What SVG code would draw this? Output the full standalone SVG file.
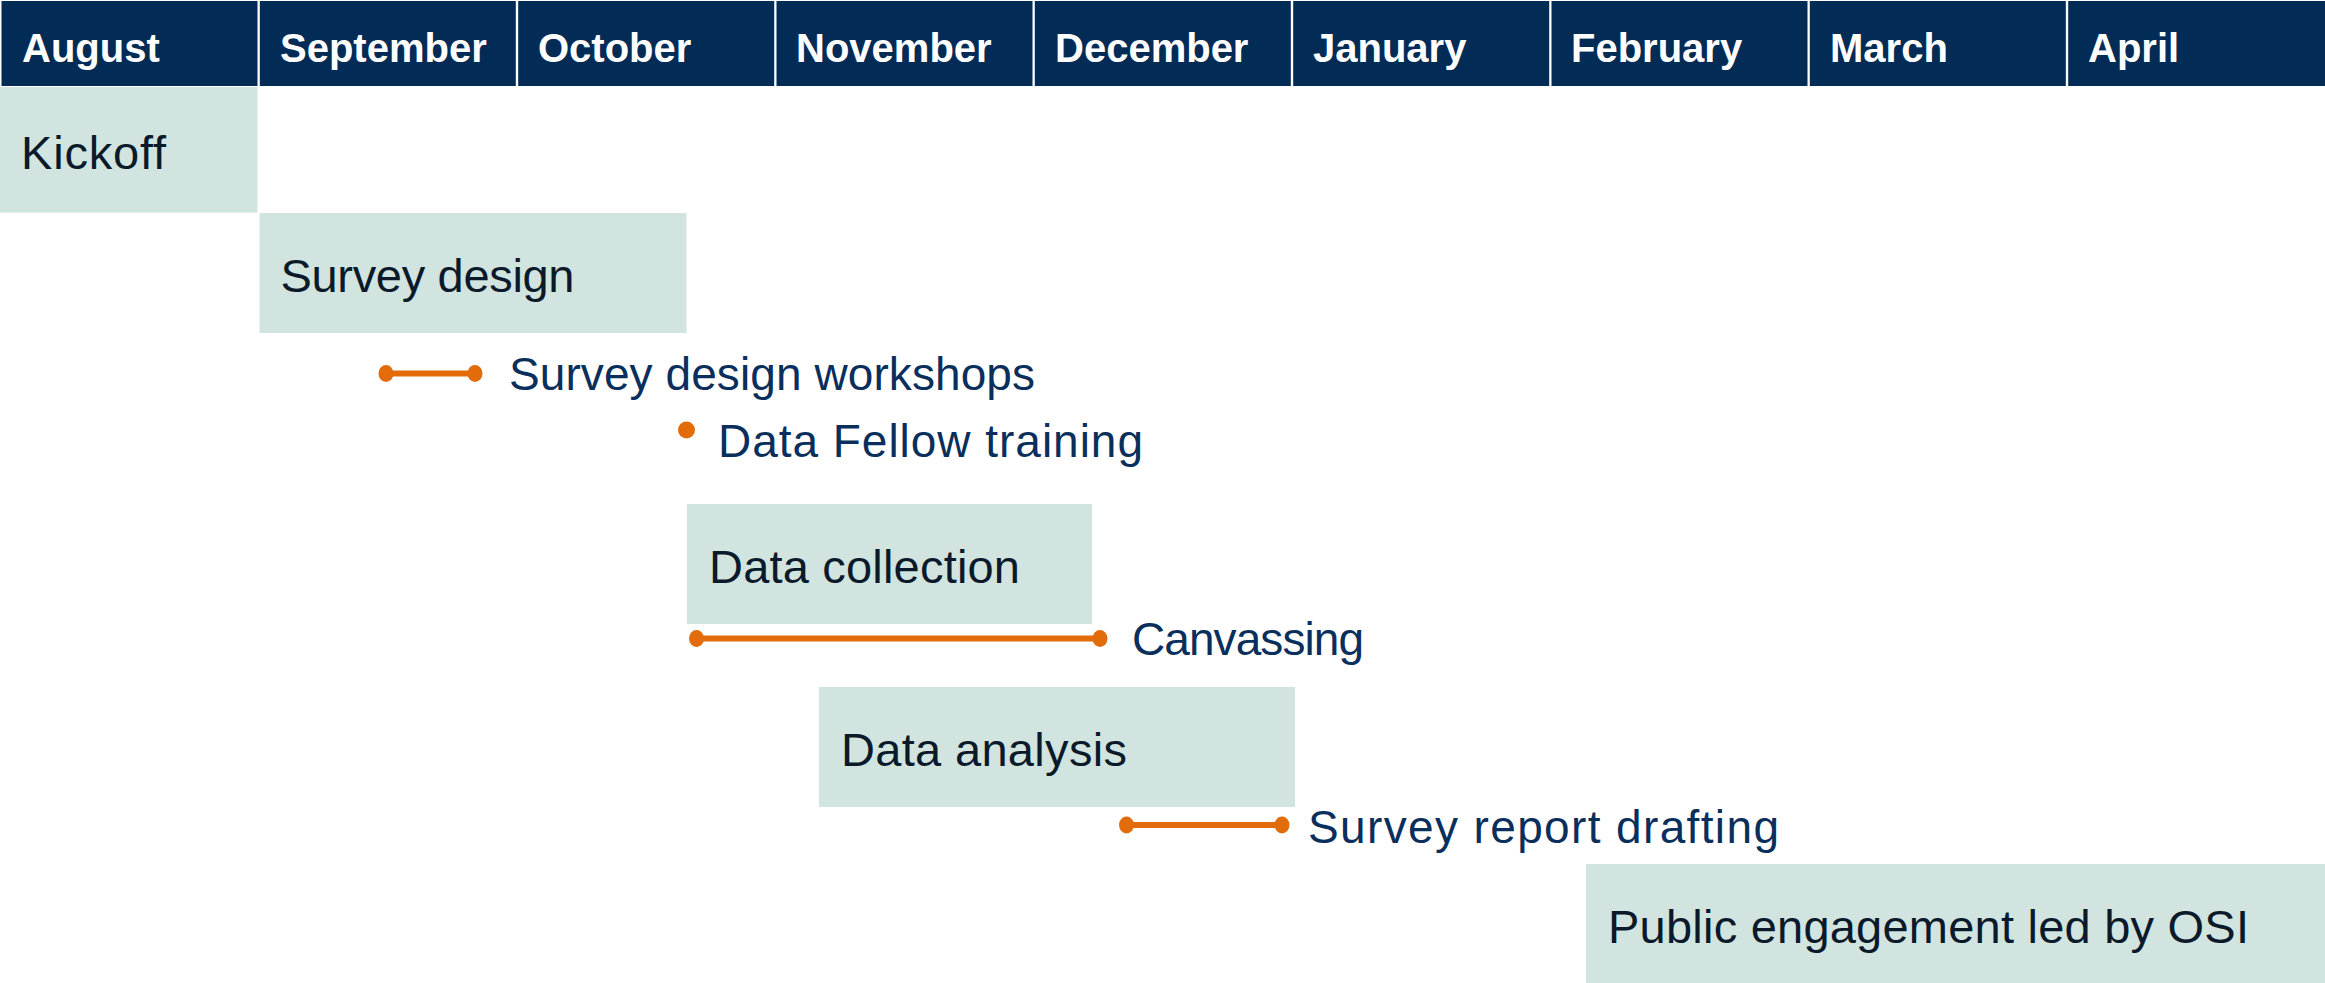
<svg xmlns="http://www.w3.org/2000/svg" width="2325" height="983" viewBox="0 0 2325 983">
<style>
.hdr{fill:#022B56;}
.htxt{font-family:"Liberation Sans",Arial,sans-serif;font-weight:bold;font-size:40px;fill:#FFFFFF;}
.bar{fill:#D1E4DF;}
.btxt{font-family:"Liberation Sans",Arial,sans-serif;font-size:47px;fill:#0B1A2B;}
.ltxt{font-family:"Liberation Sans",Arial,sans-serif;font-size:46px;fill:#0A2F5C;}
.ln{stroke:#E36C0A;stroke-width:6;fill:none;}
.dot{fill:#E36C0A;}
</style>
<rect x="0" y="0" width="2325" height="983" fill="#FFFFFF"/>
<g id="header">
<g id="m-aug"><rect class="hdr" x="1.5" y="1" width="256" height="85"/><text class="htxt" x="22" y="62">August</text></g>
<g id="m-sep"><rect class="hdr" x="259.8" y="1" width="256" height="85"/><text class="htxt" x="280" y="62">September</text></g>
<g id="m-oct"><rect class="hdr" x="518.2" y="1" width="256" height="85"/><text class="htxt" x="538" y="62">October</text></g>
<g id="m-nov"><rect class="hdr" x="776.5" y="1" width="256" height="85"/><text class="htxt" x="796" y="62">November</text></g>
<g id="m-dec"><rect class="hdr" x="1034.8" y="1" width="256" height="85"/><text class="htxt" x="1055" y="62">December</text></g>
<g id="m-jan"><rect class="hdr" x="1293.2" y="1" width="256" height="85"/><text class="htxt" x="1313" y="62">January</text></g>
<g id="m-feb"><rect class="hdr" x="1551.5" y="1" width="256" height="85"/><text class="htxt" x="1571" y="62">February</text></g>
<g id="m-mar"><rect class="hdr" x="1809.8" y="1" width="256" height="85"/><text class="htxt" x="1830" y="62">March</text></g>
<g id="m-apr"><rect class="hdr" x="2068.2" y="1" width="256.8" height="85"/><text class="htxt" x="2088" y="62">April</text></g>
</g>
<g id="kickoff"><rect class="bar" x="0" y="87" width="257.5" height="125.5"/><text class="btxt" x="21" y="169" textLength="145">Kickoff</text></g>
<g id="survey-design"><rect class="bar" x="259.5" y="213" width="427" height="120"/><text class="btxt" x="280.5" y="292" textLength="294">Survey design</text></g>
<g id="data-collection"><rect class="bar" x="687" y="504" width="405" height="120"/><text class="btxt" x="709" y="583" textLength="311">Data collection</text></g>
<g id="data-analysis"><rect class="bar" x="819" y="687" width="476" height="120"/><text class="btxt" x="841" y="766" textLength="286">Data analysis</text></g>
<g id="public-engagement"><rect class="bar" x="1586" y="864" width="739" height="119"/><text class="btxt" x="1608" y="943" textLength="641">Public engagement led by OSI</text></g>
<g id="connectors">
<line class="ln" x1="386" y1="373.5" x2="475" y2="373.5"/>
<ellipse class="dot" cx="386" cy="373.5" rx="7.5" ry="8.5"/>
<ellipse class="dot" cx="475" cy="373.5" rx="7.5" ry="8.5"/>
<ellipse class="dot" cx="686.5" cy="430" rx="8.5" ry="8.5"/>
<line class="ln" x1="696.5" y1="638.5" x2="1100" y2="638.5"/>
<ellipse class="dot" cx="696.5" cy="638.5" rx="7.5" ry="8.5"/>
<ellipse class="dot" cx="1100" cy="638.5" rx="7.5" ry="8.5"/>
<line class="ln" x1="1126.5" y1="825" x2="1282" y2="825"/>
<ellipse class="dot" cx="1126.5" cy="825" rx="7.5" ry="8.5"/>
<ellipse class="dot" cx="1282" cy="825" rx="7.5" ry="8.5"/>
</g>
<g id="labels">
<text class="ltxt" x="509" y="390" textLength="526">Survey design workshops</text>
<text class="ltxt" x="718" y="457" textLength="425">Data Fellow training</text>
<text class="ltxt" x="1132" y="655" textLength="232">Canvassing</text>
<text class="ltxt" x="1308" y="843" textLength="471">Survey report drafting</text>
</g>
</svg>
